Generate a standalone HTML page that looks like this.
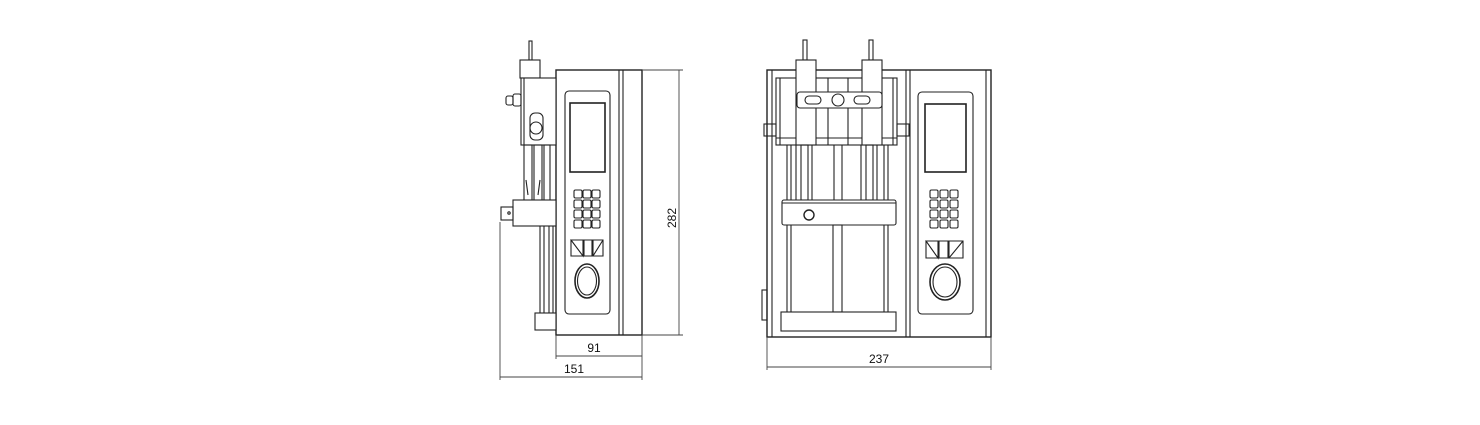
<!DOCTYPE html>
<html><head><meta charset="utf-8"><style>
html,body{margin:0;padding:0;background:#fff;}
svg{display:block;}
text{font-family:"Liberation Sans",sans-serif;font-size:12px;fill:#111;}
</style></head><body>
<svg width="1480" height="425" viewBox="0 0 1480 425" xmlns="http://www.w3.org/2000/svg">
<g fill="none" stroke="#222" stroke-width="1.1">
<!-- LEFT VIEW -->
<rect x="556" y="70" width="86" height="265" fill="#fff" stroke-width="1.4"/>
<line x1="619" y1="70" x2="619" y2="335"/>
<line x1="623" y1="70" x2="623" y2="335"/>
<rect x="565" y="91" width="45" height="223" rx="4"/>
<rect x="570" y="103" width="35" height="69" stroke-width="1.6"/>
<g>
<rect x="574" y="190" width="8" height="8" rx="1.5"/><rect x="583" y="190" width="8" height="8" rx="1.5"/><rect x="592" y="190" width="8" height="8" rx="1.5"/>
<rect x="574" y="200" width="8" height="8" rx="1.5"/><rect x="583" y="200" width="8" height="8" rx="1.5"/><rect x="592" y="200" width="8" height="8" rx="1.5"/>
<rect x="574" y="210" width="8" height="8" rx="1.5"/><rect x="583" y="210" width="8" height="8" rx="1.5"/><rect x="592" y="210" width="8" height="8" rx="1.5"/>
<rect x="574" y="220" width="8" height="8" rx="1.5"/><rect x="583" y="220" width="8" height="8" rx="1.5"/><rect x="592" y="220" width="8" height="8" rx="1.5"/>
</g>
<path d="M571 240 L583 240 L583 256 Z M571 240 L571 256 L583 256"/>
<path d="M584 240 L592 240 L592 256 L584 256 Z"/>
<path d="M593 240 L603 240 L603 256 L593 256 Z M593 256 L603 240"/>
<ellipse cx="587" cy="281" rx="12" ry="17" stroke-width="1.6"/>
<ellipse cx="587" cy="281" rx="9.5" ry="14"/>
<rect x="529" y="41" width="3" height="19"/>
<rect x="520" y="60" width="20" height="18" fill="#fff"/>
<rect x="521" y="78" width="35" height="67" fill="#fff"/>
<line x1="524" y1="78" x2="524" y2="145"/>
<rect x="513" y="94" width="8" height="12" rx="2"/>
<rect x="506" y="96" width="7" height="9" rx="2"/>
<rect x="530" y="113" width="13" height="27" rx="5"/>
<circle cx="536" cy="128" r="6"/>
<rect x="524" y="145" width="8" height="56"/>
<rect x="534" y="145" width="8" height="56"/>
<rect x="544" y="145" width="6" height="56"/>
<path d="M526 180 L528 195 M540 180 L538 195"/>
<rect x="513" y="200" width="43" height="26" fill="#fff"/>
<rect x="501" y="207" width="12" height="13"/>
<circle cx="509" cy="213" r="1.2"/>
<line x1="540" y1="226" x2="540" y2="313"/><line x1="544" y1="226" x2="544" y2="313"/>
<line x1="549" y1="226" x2="549" y2="313"/><line x1="553" y1="226" x2="553" y2="313"/>
<rect x="535" y="313" width="21" height="17" fill="#fff"/>
<g stroke="#444" stroke-width="0.9">
<line x1="642" y1="70" x2="683" y2="70"/><line x1="642" y1="335" x2="683" y2="335"/>
<line x1="679" y1="70" x2="679" y2="335"/>
<line x1="556" y1="335" x2="556" y2="359"/><line x1="642" y1="335" x2="642" y2="380"/>
<line x1="556" y1="356" x2="642" y2="356"/>
<line x1="500" y1="222" x2="500" y2="380"/>
<line x1="500" y1="377" x2="642" y2="377"/>
</g>
<!-- RIGHT VIEW -->
<rect x="767" y="70" width="224" height="267" fill="#fff" stroke-width="1.4"/>
<line x1="906" y1="70" x2="906" y2="337"/>
<line x1="910" y1="70" x2="910" y2="337"/>
<line x1="986" y1="70" x2="986" y2="337"/>
<line x1="772" y1="70" x2="772" y2="337"/>
<rect x="918" y="92" width="55" height="222" rx="4"/>
<rect x="925" y="104" width="41" height="68" stroke-width="1.6"/>
<g>
<rect x="930" y="190" width="8" height="8" rx="1.5"/><rect x="940" y="190" width="8" height="8" rx="1.5"/><rect x="950" y="190" width="8" height="8" rx="1.5"/>
<rect x="930" y="200" width="8" height="8" rx="1.5"/><rect x="940" y="200" width="8" height="8" rx="1.5"/><rect x="950" y="200" width="8" height="8" rx="1.5"/>
<rect x="930" y="210" width="8" height="8" rx="1.5"/><rect x="940" y="210" width="8" height="8" rx="1.5"/><rect x="950" y="210" width="8" height="8" rx="1.5"/>
<rect x="930" y="220" width="8" height="8" rx="1.5"/><rect x="940" y="220" width="8" height="8" rx="1.5"/><rect x="950" y="220" width="8" height="8" rx="1.5"/>
</g>
<path d="M926 241 L938 241 L938 258 Z M926 241 L926 258 L938 258"/>
<path d="M939 241 L948 241 L948 258 L939 258 Z"/>
<path d="M949 241 L963 241 L963 258 L949 258 Z M949 258 L963 241"/>
<ellipse cx="945" cy="282" rx="15" ry="18" stroke-width="1.6"/>
<ellipse cx="945" cy="282" rx="12" ry="15"/>
<rect x="776" y="78" width="121" height="67"/>
<line x1="780" y1="78" x2="780" y2="145"/><line x1="893" y1="78" x2="893" y2="145"/>
<line x1="828" y1="78" x2="828" y2="145"/><line x1="848" y1="78" x2="848" y2="145"/>
<line x1="776" y1="138" x2="897" y2="138"/>
<rect x="803" y="40" width="4" height="20"/><rect x="869" y="40" width="4" height="20"/>
<rect x="796" y="60" width="20" height="85" fill="#fff"/>
<rect x="862" y="60" width="20" height="85" fill="#fff"/>
<rect x="797" y="92" width="85" height="16" rx="3" fill="#fff"/>
<rect x="805" y="96" width="16" height="8" rx="4"/>
<rect x="854" y="96" width="16" height="8" rx="4"/>
<circle cx="838" cy="100" r="6"/>
<rect x="764" y="124" width="12" height="12"/><rect x="897" y="124" width="12" height="12"/>
<rect x="801" y="145" width="7" height="55"/><rect x="866" y="145" width="7" height="55"/>
<line x1="796" y1="145" x2="796" y2="200"/><line x1="812" y1="145" x2="812" y2="200"/>
<line x1="861" y1="145" x2="861" y2="200"/><line x1="877" y1="145" x2="877" y2="200"/>
<line x1="787" y1="145" x2="787" y2="312"/><line x1="791" y1="145" x2="791" y2="312"/>
<line x1="884" y1="145" x2="884" y2="312"/><line x1="888" y1="145" x2="888" y2="312"/>
<line x1="834" y1="145" x2="834" y2="200"/><line x1="842" y1="145" x2="842" y2="200"/>
<rect x="782" y="200" width="114" height="25" rx="2" fill="#fff"/>
<line x1="782" y1="203" x2="896" y2="203"/>
<circle cx="809" cy="215" r="5" stroke-width="1.4"/>
<rect x="833" y="225" width="9" height="87"/>
<rect x="781" y="312" width="115" height="19" fill="#fff"/>
<rect x="762" y="290" width="5" height="30"/>
<g stroke="#444" stroke-width="0.9">
<line x1="767" y1="337" x2="767" y2="370"/><line x1="991" y1="337" x2="991" y2="370"/>
<line x1="767" y1="367" x2="991" y2="367"/>
</g>
</g>
<text x="679" y="218" transform="rotate(-90 679 218)" text-anchor="middle" dy="-3">282</text>
<text x="594" y="352" text-anchor="middle">91</text>
<text x="574" y="373" text-anchor="middle">151</text>
<text x="879" y="363" text-anchor="middle">237</text>
</svg>
</body></html>
